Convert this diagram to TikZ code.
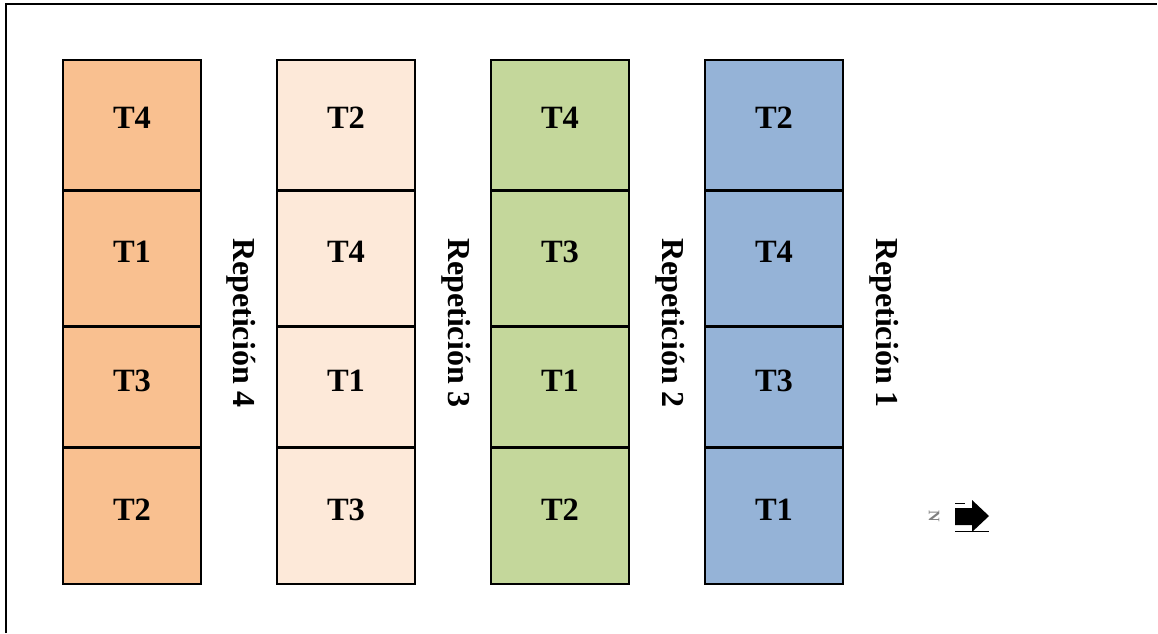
\documentclass[tikz,border=0pt]{standalone}
\usepackage{fontspec}
\setmainfont{Liberation Serif}
\begin{document}
\begin{tikzpicture}[x=1pt,y=-1pt,
  cell/.style={draw=black,line width=1.1pt},
  lbl/.style={anchor=base,inner sep=0pt,font=\fontsize{32.5}{38}\selectfont\bfseries},
  rep/.style={anchor=base,inner sep=0pt,rotate=-90,font=\fontsize{32}{38}\selectfont\bfseries}]
\definecolor{corange}{HTML}{F9C090}
\definecolor{cpeach}{HTML}{FDE9D9}
\definecolor{cgreen}{HTML}{C4D79B}
\definecolor{cblue}{HTML}{95B3D7}
\useasboundingbox (0,0) rectangle (1158,633);
\draw[line width=1.3pt] (6,633) -- (6,4) -- (1157,4);
% columns
\foreach \x/\c/\a/\b/\cc/\d [count=\k] in {63/corange/T4/T1/T3/T2, 277/cpeach/T2/T4/T1/T3, 491/cgreen/T4/T3/T1/T2, 705/cblue/T2/T4/T3/T1}{
  \fill[\c] (\x,60) rectangle ++(138,524);
  \draw[cell] (\x,60) rectangle ++(138,130);
  \draw[cell] (\x,191) rectangle ++(138,135);
  \draw[cell] (\x,327) rectangle ++(138,120);
  \draw[cell] (\x,448) rectangle ++(138,136);
  \node[lbl] (c\k a) at (\x+69,128) {\a};
  \node[lbl] (c\k b) at (\x+69,262) {\b};
  \node[lbl] (c\k c) at (\x+69,391) {\cc};
  \node[lbl] (c\k d) at (\x+69,520) {\d};
}
\node[rep] (r4) at (233,323) {Repetición 4};
\node[rep] (r3) at (448,323) {Repetición 3};
\node[rep] (r2) at (662,323) {Repetición 2};
\node[rep] (r1) at (876,323) {Repetición 1};
% north arrow
\fill[black] (955,508) -- (972,508) -- (972,500) -- (989,516) -- (972,532) -- (972,525) -- (955,525) -- cycle;
\draw[line width=1pt] (955,503) -- (965,503);
\draw[line width=1pt] (955,531) -- (989,531);
\node[rotate=-90,text=gray,inner sep=0pt,font=\fontsize{16}{17}\selectfont\bfseries] (north) at (934,516) {N};
\end{tikzpicture}
\end{document}
